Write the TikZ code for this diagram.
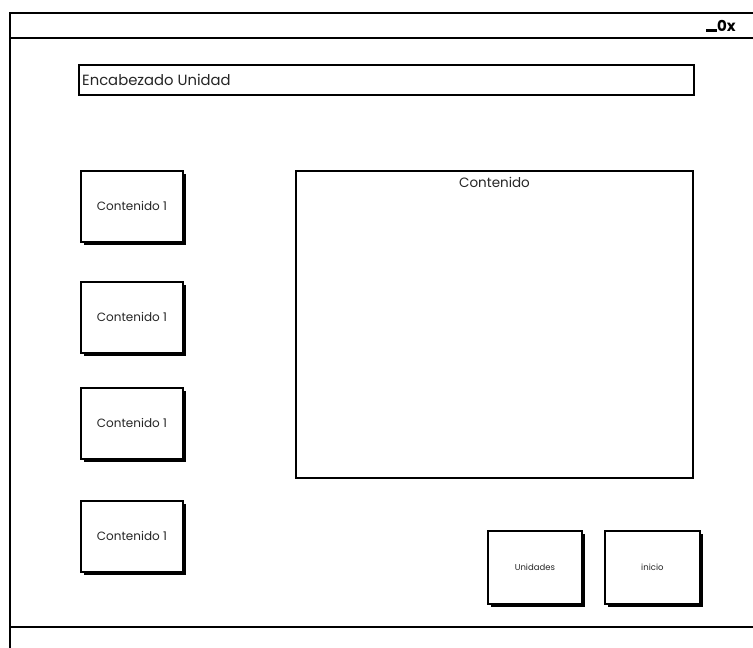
\documentclass[tikz,border=0pt]{standalone}
\usepackage{fontspec}
\setmainfont{Poppins}
\usetikzlibrary{shadows}
\begin{document}
\begin{tikzpicture}[x=1pt,y=-1pt,
  frame/.style={line width=2pt,draw=black},
  card/.style={draw=black,line width=1.8pt,fill=white,anchor=north west,inner sep=0pt,
    drop shadow={shadow xshift=3pt,shadow yshift=-3pt,fill=black,opacity=1}},
  lbl/.style={font=\fontsize{12}{14}\selectfont,text=black!85},
  tiny/.style={font=\fontsize{8.5}{10}\selectfont,text=black!85}]
\useasboundingbox[fill=white] (0,0) rectangle (753,648);
% window frame
\coordinate (tl) at (10,13);
\coordinate (tr) at (760,13);
\coordinate (bl) at (10,648);
\coordinate (tbl) at (10,38);
\coordinate (tbr) at (760,38);
\coordinate (fl) at (10,627);
\coordinate (fr) at (760,627);
\draw[frame] (bl) -- (tl) -- (tr);
\draw[frame] (tbl) -- (tbr);
\draw[frame] (fl) -- (fr);
% window controls
\node[anchor=west,inner sep=0pt,font=\bfseries\fontsize{15}{15}\selectfont] (ctl) at (706,26) {\rule[-1pt]{11pt}{3.5pt}0x};
% header
\node[draw=black,line width=2pt,anchor=north west,minimum width=615pt,minimum height=30pt,inner sep=0pt] (hdr) at (78,64) {};
\node[anchor=west,inner sep=0pt,font=\fontsize{14.8}{16}\selectfont,text=black!85] (hdrt) at ([xshift=4pt]hdr.west) {Encabezado Unidad};
% left cards
\node[card,minimum width=102pt,minimum height=71pt] (c1) at (80,170) {};
\node[lbl] at (c1.center) {Contenido 1};
\node[card,minimum width=102pt,minimum height=71pt] (c2) at (80,281) {};
\node[lbl] at (c2.center) {Contenido 1};
\node[card,minimum width=102pt,minimum height=71pt] (c3) at (80,387) {};
\node[lbl] at (c3.center) {Contenido 1};
\node[card,minimum width=102pt,minimum height=71pt] (c4) at (80,500) {};
\node[lbl] at (c4.center) {Contenido 1};
% main content
\node[draw=black,line width=2pt,anchor=north west,minimum width=397pt,minimum height=307pt,inner sep=0pt] (main) at (295,170) {};
\node[anchor=north,inner sep=0pt,font=\fontsize{13.5}{15}\selectfont,text=black!85] (maint) at ([yshift=-7pt]main.north) {Contenido};
% buttons
\node[card,minimum width=94pt,minimum height=73pt] (b1) at (487,530) {};
\node[tiny] at (b1.center) {Unidades};
\node[card,minimum width=95pt,minimum height=73pt] (b2) at (604,530) {};
\node[tiny] at (b2.center) {inicio};
\end{tikzpicture}
\end{document}
